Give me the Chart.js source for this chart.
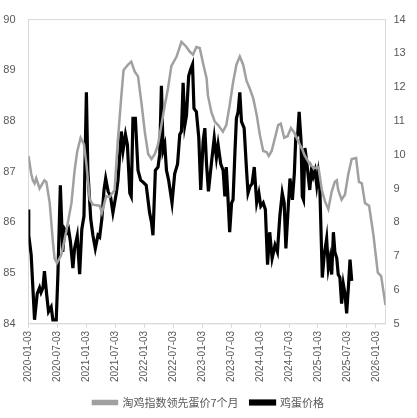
<!DOCTYPE html>
<html>
<head>
<meta charset="utf-8">
<script src="https://cdn.jsdelivr.net/npm/chart.js@4"></script>
<style>
  html, body { margin: 0; padding: 0; background: #fff; }
  #wrap { width: 417px; height: 418px; }
</style>
</head>
<body>
<div id="wrap"><canvas id="c"></canvas></div>
<script>
// months since 2020-01-03
const grayMonths = [0,0.56,0.9,1.25,1.6,2.3,3.3,3.7,4.4,5.05,5.4,5.9,6.8,7.8,8.9,9.55,10.1,10.8,11.5,12.0,
  12.7,13.35,14.75,15.2,16.1,16.8,17.85,18.5,19.25,19.7,20.6,21.3,22.0,22.7,23.4,24.1,24.8,25.5,26.2,26.85,
  27.55,28.25,28.9,29.6,30.7,31.7,32.75,33.4,34.1,34.8,35.5,36.2,36.9,37.2,37.9,38.6,39.3,40.3,41.0,41.7,
  42.4,43.1,43.8,44.5,45.2,45.9,46.6,47.3,47.95,48.65,49.35,49.8,50.4,51.1,51.75,52.3,53.0,53.7,54.4,55.1,
  55.9,56.7,57.3,58.3,59.2,60.1,60.8,61.45,62.15,62.85,63.5,63.9,64.2,64.9,65.6,66.3,67.0,67.9,68.5,69.1,
  69.75,70.6,71.5,72.4,73.1,74.0];
const grayIndex = [87.31,86.96,86.83,86.77,86.87,86.67,86.83,86.80,86.38,85.62,85.29,85.20,85.36,85.81,86.38,87.02,87.40,87.67,87.54,87.15,
  86.45,86.35,86.33,86.19,86.52,86.50,86.64,87.60,88.50,89.00,89.11,89.17,88.98,88.88,88.37,87.79,87.35,87.25,87.35,87.54,
  87.92,88.31,88.63,89.08,89.27,89.56,89.46,89.37,89.31,89.46,89.44,89.13,88.85,88.50,88.18,87.99,87.92,87.79,87.92,88.31,
  88.76,89.11,89.27,89.11,88.79,88.63,88.44,88.12,87.73,87.41,87.39,87.31,87.41,87.67,87.92,87.95,87.67,87.70,87.86,87.77,
  87.60,87.45,87.31,87.15,87.07,87.09,86.64,86.42,86.26,86.61,86.80,86.83,86.64,86.45,86.55,86.96,87.25,87.27,86.80,86.77,
  86.38,86.33,85.75,85.01,84.94,84.37];

const eggMonths = [0,0.05,0.55,1.25,1.8,2.3,2.6,3.0,3.3,3.75,4.15,4.7,5.05,5.75,6.1,6.6,7.1,7.5,7.95,8.3,
  8.7,9.2,9.55,10.1,10.6,11.05,11.5,12.0,12.3,12.9,13.35,13.85,14.4,14.75,15.2,15.65,16.0,16.5,17.0,17.5,
  18.2,18.55,19.25,19.6,20.1,20.5,21.0,21.3,21.65,22.15,22.7,23.25,23.7,24.4,25.1,25.5,25.8,26.3,26.85,27.2,
  27.55,27.9,28.25,28.6,29.05,29.75,30.3,30.9,31.35,31.7,32.05,32.4,32.75,33.2,33.6,34.0,34.3,34.8,35.3,35.7,
  36.2,36.55,36.9,37.3,37.9,38.5,38.95,39.3,39.85,40.35,40.7,41.0,41.4,41.7,42.1,42.4,42.8,43.1,43.45,43.8,
  44.15,44.7,45.2,45.5,45.9,46.35,46.8,47.3,47.75,48.15,48.65,49.1,49.55,50.0,50.5,51.1,51.6,52.1,52.6,53.0,
  53.35,53.85,54.2,54.7,55.1,55.4,55.8,56.1,56.5,56.75,57.0,57.3,57.65,58.0,58.3,58.65,59.0,59.4,59.75,60.05,
  60.4,60.9,61.3,61.8,62.15,62.5,62.85,63.2,63.5,63.9,64.2,64.55,64.9,65.25,65.6,65.95,66.3,66.65,67.0];
const eggPrice = [8.38,7.62,7.05,5.12,5.89,6.07,5.93,6.07,6.56,5.89,5.36,5.50,5.12,5.12,6.47,9.10,7.13,7.80,7.70,7.80,
  7.42,6.65,7.23,7.60,6.47,7.80,8.19,11.85,9.54,8.10,7.62,7.23,7.62,7.57,8.10,8.96,9.30,8.92,8.77,8.29,
  8.87,9.25,10.69,10.13,10.60,10.30,8.87,8.77,11.08,11.08,9.54,9.25,9.20,9.10,8.29,8.00,7.62,9.54,9.64,10.02,
  12.04,10.13,10.30,9.54,9.25,8.58,9.44,9.73,10.60,10.69,12.13,10.88,11.17,12.33,12.52,12.67,11.37,11.27,10.50,8.96,
  10.40,10.79,9.73,8.92,9.73,10.50,9.92,10.30,9.73,9.54,8.77,9.64,8.58,7.71,8.58,8.67,10.11,11.08,11.27,11.85,
  10.98,10.79,9.54,8.87,9.06,9.15,9.64,8.58,8.87,8.48,8.58,8.38,6.75,7.71,6.94,7.33,7.13,8.19,8.87,8.58,
  7.23,8.48,9.30,8.67,9.44,10.50,10.60,11.27,10.40,8.77,8.67,10.20,9.83,9.35,8.96,9.54,9.35,9.54,9.10,9.44,
  8.96,6.37,7.04,7.52,6.65,6.94,6.46,7.71,7.13,6.94,6.46,6.37,5.60,6.18,5.89,5.31,6.07,6.90,6.27];

const seriesNames = ["淘鸡指数领先蛋价7个月", "鸡蛋价格"];

const axisGray = "#595959";
const lineGray = "#d9d9d9";

// month offset -> "YYYY-MM-03"
function monthLabel(v) {
  const y = 2020 + Math.floor(v / 12);
  const m = (v % 12) + 1;
  return y + "-" + String(m).padStart(2, "0") + "-03";
}

// light frame round the plot area
const frame = {
  id: "frame",
  beforeDatasetsDraw(chart) {
    const a = chart.chartArea;
    const ctx = chart.ctx;
    ctx.save();
    ctx.strokeStyle = lineGray;
    ctx.lineWidth = 1;
    ctx.strokeRect(a.left, a.top, a.right - a.left, a.bottom - a.top);
    ctx.restore();
  }
};

new Chart(document.getElementById("c"), {
  type: "line",
  data: {
    datasets: [{
      label: seriesNames[0],
      data: grayMonths.map((m, i) => ({ x: m, y: grayIndex[i] })),
      yAxisID: "y",
      borderColor: "#a0a0a0",
      backgroundColor: "#a0a0a0",
      borderWidth: 2.5,
      pointRadius: 0,
      tension: 0
    }, {
      label: seriesNames[1],
      data: eggMonths.map((m, i) => ({ x: m, y: eggPrice[i] })),
      yAxisID: "y1",
      borderColor: "#000000",
      backgroundColor: "#000000",
      borderWidth: 3.2,
      pointRadius: 0,
      tension: 0
    }]
  },
  options: {
    responsive: true,
    maintainAspectRatio: false,
    animation: false,
    layout: { padding: { left: 0, right: 0, top: 0, bottom: 0 } },
    plugins: {
      legend: {
        position: "bottom",
        labels: {
          boxWidth: 24,
          boxHeight: 3,
          padding: 12,
          color: axisGray,
          font: { family: "'Noto Sans CJK SC'", size: 11 }
        }
      },
      tooltip: { enabled: false }
    },
    scales: {
      x: {
        type: "linear",
        min: 0,
        max: 74,
        ticks: {
          stepSize: 6,
          includeBounds: false,
          autoSkip: false,
          minRotation: 90,
          maxRotation: 90,
          padding: 3,
          color: axisGray,
          font: { family: "'Liberation Sans'", size: 10 },
          callback: v => monthLabel(v)
        },
        grid: { drawOnChartArea: false, tickLength: 4, color: lineGray },
        border: { display: true, color: lineGray }
      },
      y: {
        position: "left",
        min: 84,
        max: 90,
        afterFit: s => { s.width = 28.5; },
        ticks: {
          stepSize: 1,
          padding: 13,
          color: axisGray,
          font: { family: "'Liberation Sans'", size: 11 }
        },
        grid: { display: false, drawTicks: false },
        border: { display: true, color: lineGray }
      },
      y1: {
        position: "right",
        min: 5,
        max: 14,
        afterFit: s => { s.width = 31.5; },
        ticks: {
          stepSize: 1,
          padding: 8,
          color: axisGray,
          font: { family: "'Liberation Sans'", size: 11 }
        },
        grid: { display: false, drawTicks: false },
        border: { display: true, color: lineGray }
      }
    }
  },
  plugins: [frame]
});
</script>
</body>
</html>
